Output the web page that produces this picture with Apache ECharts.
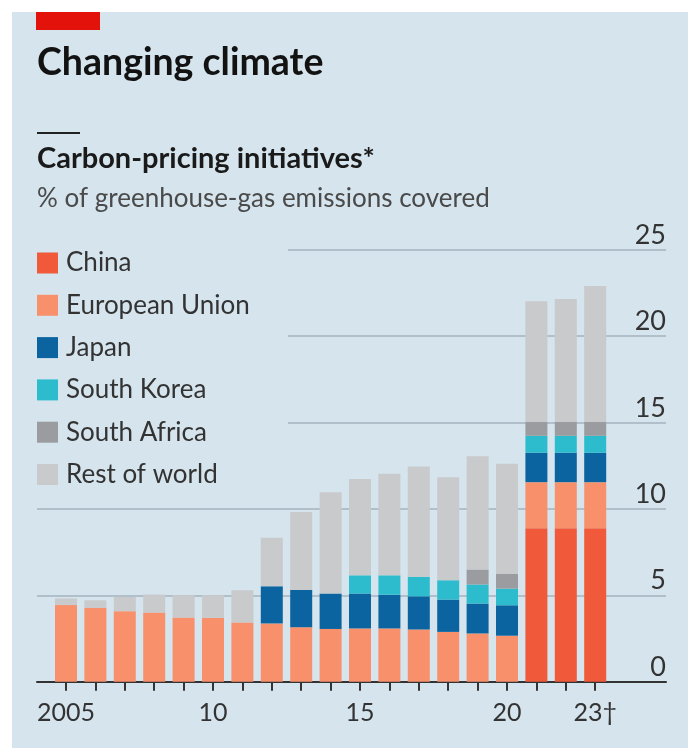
<!DOCTYPE html>
<html>
<head>
<meta charset="utf-8">
<script src="https://cdn.jsdelivr.net/npm/echarts@6/dist/echarts.min.js"></script>
<style>
  html, body { margin: 0; padding: 0; background: #ffffff; }
  #panel { position: absolute; left: 12px; top: 12px; width: 676px; height: 736px; background: #d5e4ed; }
  #chart { position: absolute; left: 0; top: 0; width: 693px; height: 748px; }
</style>
</head>
<body>
<div id="panel"></div>
<div id="chart"></div>
<script>
// ---- data ----
const years = ['2005','2006','2007','2008','2009','2010','2011','2012','2013','2014','2015','2016','2017','2018','2019','2020','2021','2022','2023'];
const xTickLabels = ['2005','','','','','10','','','','','15','','','','','20','','','23\u2020'];
const yTicks = [0, 5, 10, 15, 20, 25];

const china       = [0,0,0,0,0,0,0,0,0,0,0,0,0,0,0,0,8.88,8.88,8.88];
const eu          = [4.43,4.27,4.08,4.00,3.71,3.69,3.43,3.37,3.15,3.05,3.08,3.08,3.02,2.88,2.79,2.66,2.66,2.66,2.66];
const japan       = [0,0,0,0,0,0,0,2.15,2.16,2.05,2.02,1.95,1.92,1.87,1.73,1.76,1.70,1.70,1.70];
const southKorea  = [0,0,0,0,0,0,0,0,0,0,1.05,1.12,1.12,1.12,1.10,0.96,0.98,0.98,0.98];
const southAfrica = [0,0,0,0,0,0,0,0,0,0,0,0,0,0,0.87,0.87,0.82,0.82,0.82];
const restOfWorld = [0.38,0.44,0.82,1.04,1.29,1.31,1.86,2.81,4.50,5.85,5.58,5.87,6.38,5.96,6.55,6.35,6.96,7.10,7.84];

const seriesNames = ['China','European Union','Japan','South Korea','South Africa','Rest of world'];
const seriesData = [china, eu, japan, southKorea, southAfrica, restOfWorld];
const colors = ['#f05a3a','#f8906c','#0b64a0','#2cbccd','#9a9c9f','#c8cacc'];

const FONT = 'Lato';
const chart = echarts.init(document.getElementById('chart'), null, { renderer: 'canvas' });

const zeroY = 681.7, unit = 17.29;
const bottom = 748 - zeroY;

const option = {
  backgroundColor: 'transparent',
  animation: false,
  textStyle: { fontFamily: FONT },
  title: [
    { text: 'Changing climate', left: 37, top: 44, padding: 0, textStyle: { fontFamily: FONT, fontSize: 37.5, fontWeight: 'bold', color: '#121212', lineHeight: 37.5 } },
    { text: 'Carbon-pricing initiatives*', left: 37, top: 144, padding: 0, textStyle: { fontFamily: FONT, fontSize: 29, fontWeight: 'bold', color: '#1a1a1a', lineHeight: 29 } },
    { text: '% of greenhouse-gas emissions covered', left: 37, top: 186, padding: 0, textStyle: { fontFamily: FONT, fontSize: 26, fontWeight: 'normal', color: '#4a4a4a', lineHeight: 26 } }
  ],
  graphic: [
    { type: 'rect', left: 36, top: 12, shape: { width: 64, height: 18 }, style: { fill: '#e3120b' } },
    { type: 'rect', left: 37, top: 132, shape: { width: 43, height: 2 }, style: { fill: '#222' } }
  ],
  legend: {
    orient: 'vertical', left: 37, top: 250, padding: 0,
    itemWidth: 21, itemHeight: 21, itemGap: 16.3, icon: 'rect',
    data: seriesNames,
    textStyle: { fontFamily: FONT, fontSize: 26, color: '#333', lineHeight: 21, padding: [0,0,0,3] }
  },
  grid: [
    { left: 51.3, right: 83.1, top: zeroY - 25 * unit, bottom: bottom },
    { left: 37, width: 251, top: zeroY - 10 * unit, bottom: bottom },
    { left: 288, right: 27, top: zeroY - 25 * unit, bottom: bottom }
  ],
  xAxis: [
    { gridIndex: 0, type: 'category', data: years,
      axisLine: { show: false },
      axisTick: { show: true, alignWithLabel: true, interval: 0, length: 9, lineStyle: { color: '#333', width: 2 } },
      axisLabel: { interval: 0, margin: 19, fontFamily: FONT, fontSize: 25, color: '#333', formatter: (v, i) => xTickLabels[i] }
    },
    { gridIndex: 1, type: 'value', min: 0, max: 1, show: true, axisLine: { show: true, lineStyle: { color: '#333', width: 2 } }, axisTick: { show: false }, axisLabel: { show: false }, splitLine: { show: false } },
    { gridIndex: 2, type: 'value', min: 0, max: 1, show: true, axisLine: { show: true, lineStyle: { color: '#333', width: 2 } }, axisTick: { show: false }, axisLabel: { show: false }, splitLine: { show: false } }
  ],
  yAxis: [
    { gridIndex: 0, type: 'value', min: 0, max: 25, interval: 5, show: false },
    { gridIndex: 1, type: 'value', min: 0, max: 10, interval: 5, axisLine: { show: false }, axisTick: { show: false }, axisLabel: { show: false },
      splitLine: { show: true, lineStyle: { color: '#a3b3be', width: 1.5 } } },
    { gridIndex: 2, type: 'value', position: 'right', min: yTicks[0], max: yTicks[yTicks.length - 1], interval: 5,
      axisLine: { show: false }, axisTick: { show: false },
      axisLabel: { inside: true, margin: 0, align: 'right', verticalAlign: 'bottom', padding: [0,0,1,0], fontFamily: FONT, fontSize: 27, color: '#333' },
      splitLine: { show: true, lineStyle: { color: '#a3b3be', width: 1.5 } } }
  ],
  series: seriesNames.map((name, k) => ({
    name: name, type: 'bar', stack: 'total', xAxisIndex: 0, yAxisIndex: 0,
    barWidth: 22, data: seriesData[k], itemStyle: { color: colors[k] }, z: 3
  }))
};
chart.setOption(option);
</script>
</body>
</html>
